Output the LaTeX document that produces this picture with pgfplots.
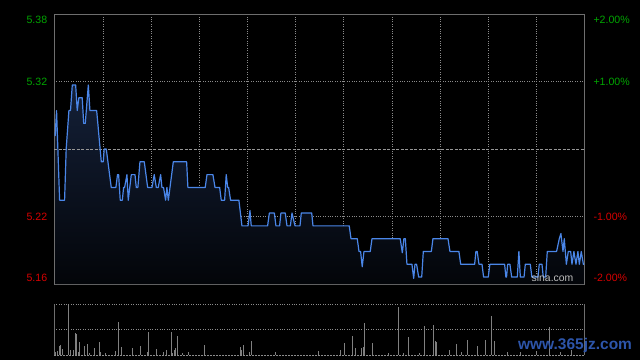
\documentclass[border=0pt]{standalone}
\usepackage{fontspec}
\setmainfont{Liberation Sans}
\usepackage{pgfplots}
\pgfplotsset{compat=1.18}
\usepackage{pgfplotstable}
\definecolor{upg}{RGB}{0,165,0}
\definecolor{dnr}{RGB}{215,0,0}
\definecolor{ln}{RGB}{74,134,232}
\definecolor{frm}{RGB}{110,110,110}
\definecolor{grd}{RGB}{140,140,140}
\definecolor{zero}{RGB}{150,150,150}
\definecolor{fillt}{RGB}{20,32,56}
\definecolor{fillb}{RGB}{3,5,9}
\definecolor{volc}{RGB}{128,128,128}
\definecolor{wm}{RGB}{45,85,170}

\pgfplotstableread{
m p
0 5.28
0.9 5.30
2.8 5.23
5.9 5.23
6.9 5.27
8.6 5.30
9.6 5.30
10.7 5.32
12.8 5.32
13.8 5.30
14.8 5.31
16.9 5.31
17.8 5.29
18.8 5.29
20.7 5.32
21.7 5.30
25.9 5.30
28.8 5.26
30.0 5.26
30.6 5.27
31.9 5.27
35.0 5.24
37.9 5.24
38.9 5.25
39.6 5.25
40.6 5.23
41.9 5.23
42.7 5.24
43.3 5.24
44.8 5.25
45.6 5.23
47.5 5.25
49.8 5.25
50.6 5.24
51.6 5.24
52.9 5.26
55.6 5.26
57.7 5.24
60.4 5.24
61.8 5.25
63.1 5.24
64.3 5.24
65.8 5.25
66.6 5.24
67.6 5.24
68.9 5.23
69.7 5.24
70.6 5.23
73.7 5.26
82.0 5.26
82.8 5.24
93.6 5.24
94.7 5.25
98.4 5.25
99.7 5.24
102.6 5.24
103.6 5.23
105.7 5.23
106.7 5.25
107.6 5.24
108.2 5.24
109.4 5.23
114.6 5.23
116.5 5.21
120.3 5.21
121.5 5.222
122.3 5.21
132.5 5.21
133.6 5.22
136.7 5.22
137.7 5.21
140.0 5.21
140.8 5.22
143.5 5.22
144.6 5.21
146.7 5.21
147.7 5.22
149.6 5.21
152.7 5.21
153.5 5.22
160.0 5.22
160.8 5.21
183.4 5.21
184.5 5.20
188.4 5.20
189.5 5.19
190.5 5.19
191.5 5.178
192.6 5.19
196.5 5.19
197.6 5.20
215.2 5.20
216.5 5.189
217.5 5.20
218.4 5.20
219.4 5.18
222.5 5.18
223.6 5.169
224.4 5.18
225.4 5.18
226.7 5.17
228.6 5.17
229.6 5.19
234.6 5.19
235.6 5.20
245.0 5.20
246.2 5.19
251.8 5.19
252.9 5.18
261.6 5.18
262.4 5.19
263.2 5.19
264.3 5.18
266.2 5.18
267.2 5.17
270.1 5.17
271.1 5.18
280.3 5.18
281.1 5.17
281.5 5.17
282.2 5.18
283.6 5.18
284.7 5.17
288.2 5.17
289.2 5.19
290.1 5.17
292.4 5.17
293.2 5.18
296.3 5.18
297.3 5.17
301.1 5.17
301.9 5.18
303.6 5.18
304.4 5.17
305.9 5.17
306.9 5.19
312.7 5.19
314.4 5.20
315.4 5.204
316.7 5.19
317.5 5.20
318.8 5.18
320.0 5.19
321.5 5.19
322.3 5.18
323.5 5.19
324.8 5.18
326.0 5.19
326.9 5.18
328.1 5.19
329.4 5.18
329.8 5.18
}\price

\pgfplotstableread{
m v
0 0.06
1.3 0.08
2.6 0.18
3.2 0.20
4.4 0.12
8.2 0.99
9.4 0.10
11.3 0.10
12.5 0.43
13.2 0.41
14.4 0.05
15.0 0.26
18.1 0.18
20.0 0.22
21.3 0.04
24.4 0.14
27.5 0.26
28.1 0.06
31.2 0.04
37.5 0.08
39.4 0.65
41.2 0.16
48.1 0.14
53.1 0.18
57.4 0.06
58.1 0.45
63.1 0.12
67.4 0.06
69.3 0.10
72.4 0.45
73.0 0.04
74.3 0.10
74.9 0.14
76.2 0.37
79.3 0.04
83.0 0.06
93.0 0.20
115.4 0.16
116.1 0.10
117.3 0.20
121.1 0.06
122.3 0.28
137.3 0.06
164.1 0.08
177.8 0.10
180.3 0.24
185.3 0.37
187.2 0.14
190.9 0.14
192.2 0.16
192.8 0.63
197.8 0.24
207.8 0.04
214.0 0.95
217.1 0.04
220.2 0.36
227.1 0.04
230.2 0.57
235.8 0.59
237.1 0.28
237.7 0.26
245.8 0.10
250.2 0.22
253.3 0.06
257.0 0.30
263.3 0.18
268.3 0.30
272.0 0.77
273.9 0.28
282.0 0.06
290.0 0.05
300.0 0.08
308.2 0.55
315.0 0.06
322.0 0.10
}\vol

\begin{document}
\begin{tikzpicture}[x=1pt,y=1pt]
\fill[black] (0,0) rectangle (640,360);
\begin{axis}[
  at={(54pt,76pt)}, anchor=south west, scale only axis,
  width=530pt, height=270pt,
  xmin=-0.7, xmax=329.8, ymin=5.1646, ymax=5.3754,
  axis line style={draw=frm, line width=0.8pt},
  xtick={30,60,...,300}, xticklabels={},
  ytick={5.2173,5.3227}, yticklabels={},
  major tick length=0pt,
  grid=major,
  major grid style={draw=grd, line width=0.7pt, dash pattern=on 1pt off 1.4pt},
  clip mode=individual,
]
\addplot[draw=none, top color=fillt, bottom color=fillb] table[x=m,y=p] {\price}
  -- (axis cs:329.8,5.1646) -- (axis cs:0,5.1646) -- cycle;
\addplot[draw=zero, line width=0.7pt, dash pattern=on 3pt off 1.5pt] coordinates {(-0.7,5.27) (329.8,5.27)};
\addplot[draw=ln, line width=1.2pt, line join=round] table[x=m,y=p] {\price};
\node[anchor=east, xshift=-3.3pt, text=upg, font=\fontsize{10.6}{12}\selectfont] at (rel axis cs:0,0.978) {5.38};
\node[anchor=east, xshift=-3.3pt, text=upg, font=\fontsize{10.6}{12}\selectfont] at (rel axis cs:0,0.748) {5.32};
\node[anchor=east, xshift=-3.3pt, text=dnr, font=\fontsize{10.6}{12}\selectfont] at (rel axis cs:0,0.248) {5.22};
\node[anchor=east, xshift=-3.3pt, text=dnr, font=\fontsize{10.6}{12}\selectfont] at (rel axis cs:0,0.0233) {5.16};
\node[anchor=west, xshift=6pt, text=upg, font=\fontsize{10.6}{12}\selectfont] at (rel axis cs:1,0.978) {+2.00\%};
\node[anchor=west, xshift=6pt, text=upg, font=\fontsize{10.6}{12}\selectfont] at (rel axis cs:1,0.748) {+1.00\%};
\node[anchor=west, xshift=6pt, text=dnr, font=\fontsize{10.6}{12}\selectfont] at (rel axis cs:1,0.248) {-1.00\%};
\node[anchor=west, xshift=6pt, text=dnr, font=\fontsize{10.6}{12}\selectfont] at (rel axis cs:1,0.0233) {-2.00\%};
\end{axis}
\node[text=white!75!black, font=\fontsize{10.4}{12}\selectfont, inner sep=0pt] at (552.5,82.3) {sina.com};
\begin{axis}[
  at={(54pt,5pt)}, anchor=south west, scale only axis,
  width=530pt, height=51pt,
  xmin=-0.7, xmax=329.8, ymin=0, ymax=1,
  axis line style={draw=none},
  xtick=\empty, ytick=\empty,
  clip=false,
]
\draw[grd, line width=0.7pt, dash pattern=on 1pt off 1.4pt] (rel axis cs:0,1) -- (rel axis cs:1,1);
\draw[grd, line width=0.7pt, dash pattern=on 1pt off 1.4pt] (rel axis cs:0,0.5) -- (rel axis cs:1,0.5);
\draw[grd, line width=0.7pt, dash pattern=on 2pt off 1pt] (rel axis cs:0,0) -- (rel axis cs:1,0);
\addplot[ycomb, draw=volc, line width=0.9pt] table[x=m,y=v] {\vol};
\draw[frm, line width=0.8pt] (rel axis cs:0,0) -- (rel axis cs:0,1);
\draw[frm, line width=0.8pt] (rel axis cs:1,0) -- (rel axis cs:1,1);
\end{axis}
\node[text=wm, font=\bfseries\fontsize{15.5}{17}\selectfont, inner sep=0pt] at (575,15) {www.365jz.com};
\end{tikzpicture}
\end{document}
